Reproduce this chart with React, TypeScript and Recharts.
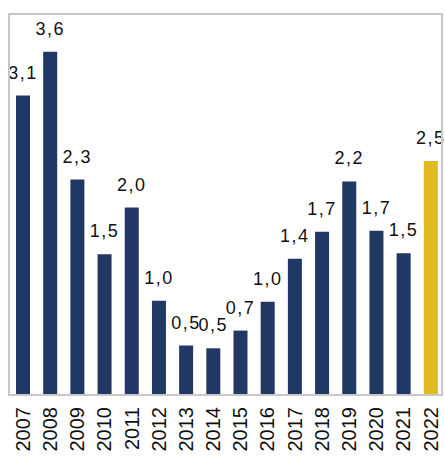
import { BarChart, Bar, XAxis, YAxis, Cell, LabelList } from "recharts";

const YEARS = ["2007", "2008", "2009", "2010", "2011", "2012", "2013", "2014", "2015", "2016", "2017", "2018", "2019", "2020", "2021", "2022"];
const VALUES = [3.2, 3.67, 2.3, 1.5, 2.0, 1.0, 0.52, 0.49, 0.68, 0.99, 1.45, 1.74, 2.28, 1.75, 1.51, 2.5];
const VALUE_LABELS = ["3,1", "3,6", "2,3", "1,5", "2,0", "1,0", "0,5", "0,5", "0,7", "1,0", "1,4", "1,7", "2,2", "1,7", "1,5", "2,5"];

const NAVY = "#213864";
const GOLD = "#e0bb20";
const FONT = "'Liberation Sans', Arial, sans-serif";

const data = YEARS.map((year, i) => ({ year, value: VALUES[i], label: VALUE_LABELS[i] }));

function YearTick(props: any) {
  const { x, y, payload } = props;
  const ty = y + 5;
  return (
    <text
      x={x}
      y={ty}
      dy="0.36em"
      transform={`rotate(-90 ${x} ${ty})`}
      textAnchor="end"
      fontSize={20}
      fontFamily={FONT}
      fill="#111"
    >
      {payload.value}
    </text>
  );
}

export default function App() {
  return (
    <div style={{ position: "absolute", left: 0, top: 0, width: 445, height: 460, background: "#fff" }}>
      <BarChart
        width={445}
        height={460}
        data={data}
        margin={{ top: 21, right: 1, left: 9, bottom: 0 }}
        barCategoryGap={0}
      >
        <XAxis
          dataKey="year"
          interval={0}
          tickLine={false}
          axisLine={false}
          tick={<YearTick />}
          height={66}
        />
        <YAxis hide domain={[0, 4]} />
        <Bar dataKey="value" barSize={14} isAnimationActive={false}>
          {data.map((d, i) => (
            <Cell key={d.year} fill={i === data.length - 1 ? GOLD : NAVY} />
          ))}
          <LabelList
            dataKey="label"
            position="top"
            offset={17}
            fontSize={18}
            fontFamily={FONT}
            fill="#111"
            style={{ letterSpacing: 1.5 }}
          />
        </Bar>
      </BarChart>
      <div
        style={{
          position: "absolute",
          left: 8,
          top: 13,
          width: 431,
          height: 379,
          border: "2px solid #c8c8c8",
          pointerEvents: "none",
        }}
      />
    </div>
  );
}
